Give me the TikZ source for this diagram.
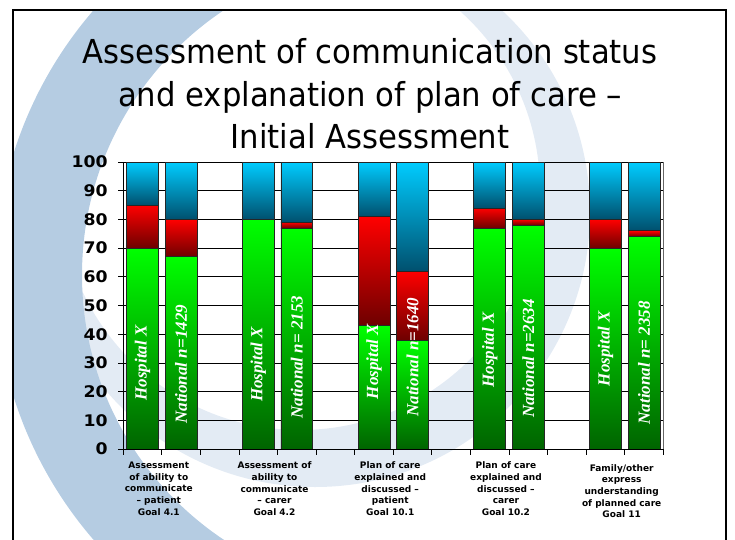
\documentclass[tikz,border=0pt]{standalone}
\usepackage{fontspec}
\setmainfont{DejaVu Sans}
\newfontfamily\titlefont[FakeStretch=0.93]{DejaVu Sans}
\newfontfamily\axisfont[FakeStretch=1.08]{DejaVu Sans}
\newfontfamily\barfont{Liberation Serif}
\usepackage{tikz}
\definecolor{ringdark}{RGB}{181,204,226}
\definecolor{ringlight}{RGB}{227,235,244}
\definecolor{goodtop}{RGB}{0,255,0}
\definecolor{goodbot}{RGB}{0,100,0}
\definecolor{partop}{RGB}{255,0,0}
\definecolor{parbot}{RGB}{110,0,0}
\definecolor{nottop}{RGB}{0,204,255}
\definecolor{notbot}{RGB}{0,80,110}
\def\slotw{28.93pt}
\def\unith{2.1525pt}

\begin{document}
\begin{tikzpicture}[x=0.75pt, y=-0.75pt,
	gridline/.style={line width=0.6pt, black},
	good/.style={top color=goodtop, bottom color=goodbot, draw=black!85, line width=0.6pt},
	part/.style={top color=partop, bottom color=parbot, draw=black!85, line width=0.6pt},
	notmet/.style={top color=nottop, bottom color=notbot, draw=black!85, line width=0.6pt},
	barlabel/.style={white, rotate=90, inner sep=0pt, font=\barfont\bfseries\itshape\fontsize{12.75}{14}\selectfont},
	ylabel/.style={anchor=east, inner sep=0pt, font=\axisfont\bfseries\fontsize{12}{14}\selectfont},
	catlabel/.style={anchor=north, inner sep=0pt, align=center, font=\bfseries\fontsize{6.75}{8.8}\selectfont},
	titleline/.style={anchor=base, inner sep=0pt, font=\titlefont\fontsize{24.75}{30}\selectfont}]
	\useasboundingbox (0,0) rectangle (735,539);
	% background rings
	\begin{scope}
		\clip (12.8,10) rectangle (726,545);
		\fill[ringlight, even odd rule] (315,212) circle[radius=275] (300,190) circle[radius=240];
	\end{scope}
	\begin{scope}
		\clip (12.8,10) rectangle (400,545);
		\fill[ringdark, even odd rule] (400,275) circle[radius=405] (400,275) circle[radius=318];
	\end{scope}
	% title
	\node[titleline] (title1) at (370,63.5) {Assessment of communication status};
	\node[titleline] (title2) at (370,106) {and explanation of plan of care –};
	\node[titleline] (title3) at (370,148.5) {Initial Assessment};
	% chart
	\begin{scope}[shift={(123.3,449)}, x=\slotw, y=\unith]
		\foreach \v in {10,20,...,100}
			\draw[gridline] (0,\v) -- (14,\v);
		\foreach \s/\gr/\rd in {0/70/85, 1/67/80, 3/80/80, 4/77/79, 6/43/81, 7/38/62, 9/77/84, 10/78/80, 12/70/80, 13/74/76}{
			\path[good] (\s+0.086,0) rectangle (\s+0.914,\gr);
			\ifdim\rd pt>\gr pt \path[part] (\s+0.086,\gr) rectangle (\s+0.914,\rd); \fi
			\path[notmet] (\s+0.086,\rd) rectangle (\s+0.914,100);
		}
		\draw[gridline] (0,0) -- (0,100);
		\draw[line width=0.6pt, black!60] (14,0) -- (14,100);
		\draw[gridline] (0,0) -- (14,0);
		\foreach \v in {0,10,...,100}{
			\draw[gridline] (0,\v) -- (-0.13,\v);
			\node[ylabel] (y\v) at (-0.4,\v) {\v};
		}
		\foreach \s in {0,...,14}
			\draw[gridline] (\s,0) -- (\s,-2.1);
		% bar names
		\foreach \s/\txt/\yc in {0/Hospital X/30, 1/National n=1429/29.5, 3/Hospital X/29.5, 4/National n= 2153/32,
			6/Hospital X/30.5, 7/National n=1640/32, 9/Hospital X/34.5, 10/National n=2634/31.5,
			12/Hospital X/35, 13/National n= 2358/30}
			\node[barlabel] (bar\s) at (\s+0.5,\yc) {\txt};
		% categories
		\node[catlabel] (cat1) at (0.92,-4.35) {Assessment\\of ability to\\communicate\\– patient\\Goal 4.1};
		\node[catlabel] (cat2) at (3.92,-4.35) {Assessment of\\ability to\\communicate\\– carer\\Goal 4.2};
		\node[catlabel] (cat3) at (6.92,-4.35) {Plan of care\\explained and\\discussed –\\patient\\Goal 10.1};
		\node[catlabel] (cat4) at (9.92,-4.35) {Plan of care\\explained and\\discussed –\\carer\\Goal 10.2};
		\node[catlabel] (cat5) at (12.92,-5.2) {Family/other\\express\\understanding\\of planned care\\Goal 11};
	\end{scope}
	% slide frame
	\draw[line width=1.7pt] (12.8,10) rectangle (726,560);
\end{tikzpicture}
\end{document}
